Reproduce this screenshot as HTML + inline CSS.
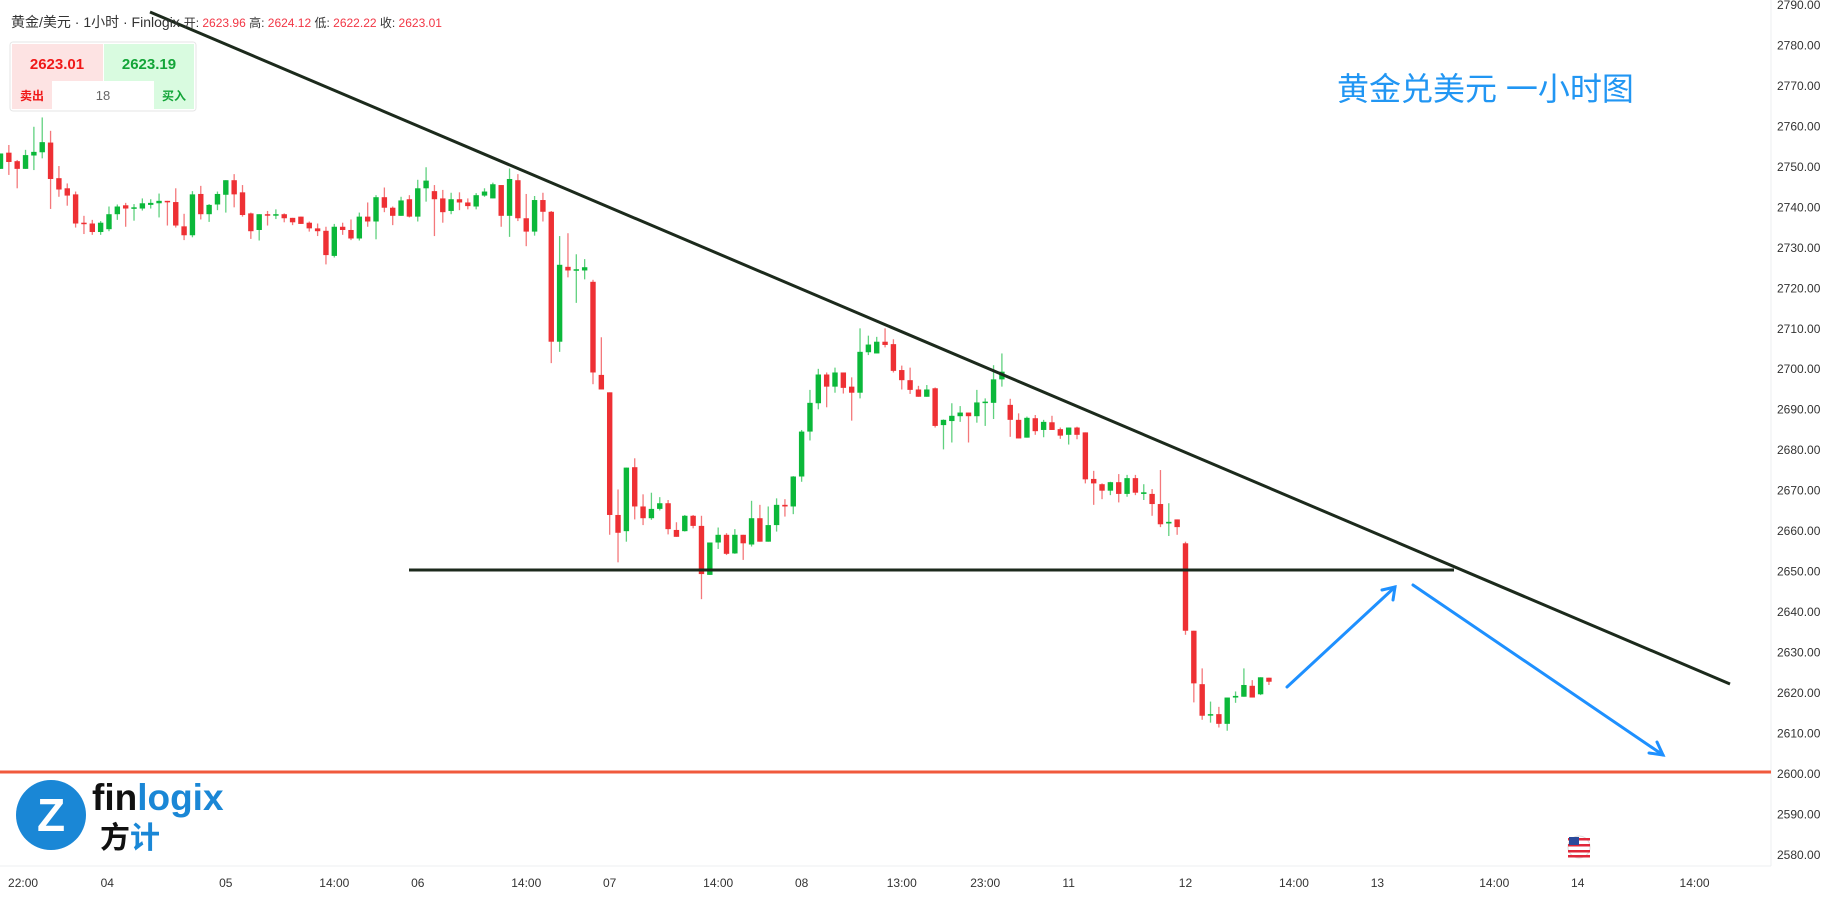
<!DOCTYPE html>
<html><head><meta charset="utf-8">
<style>
html,body{margin:0;padding:0;background:#fff;width:1825px;height:899px;overflow:hidden;font-family:"Liberation Sans","Noto Sans CJK SC",sans-serif;}
#c{position:absolute;left:0;top:0}
</style></head>
<body>
<svg id="c" width="1825" height="899" xmlns="http://www.w3.org/2000/svg">
  <rect x="0" y="0" width="1825" height="899" fill="#fff"/>
  <line x1="1771" y1="0" x2="1771" y2="866" stroke="#eceff2"/>
  <line x1="0" y1="866" x2="1771" y2="866" stroke="#eceff2"/>
  <g id="yaxis"></g>
  <g id="xaxis"></g>
  <g id="candles"></g>
  <line x1="0" y1="772" x2="1771" y2="772" stroke="#f05a3c" stroke-width="3"/>
  <line x1="150" y1="12" x2="1730" y2="684" stroke="#1c2a1c" stroke-width="3"/>
  <line x1="409" y1="570" x2="1454" y2="570" stroke="#1c2a1c" stroke-width="3"/>
  <g stroke="#1e90ff" stroke-width="3" fill="none" stroke-linecap="round">
    <line x1="1287" y1="687" x2="1395" y2="587"/>
    <polyline points="1382,590 1395,587 1393,600"/>
  </g>
  <g stroke="#1e90ff" stroke-width="3" fill="none" stroke-linecap="round">
    <line x1="1413" y1="585" x2="1663" y2="755"/>
    <polyline points="1649,753 1663,755 1657,742"/>
  </g>
  <text x="1337" y="100" font-size="32" fill="#2196f3" font-family="Liberation Sans, Noto Sans CJK SC, sans-serif">黄金兑美元 一小时图</text>

  <text x="11" y="27" font-size="14" fill="#333">黄金/美元 · 1小时 · Finlogix <tspan font-size="12">开:</tspan><tspan fill="#f23645" font-size="12"> 2623.96 </tspan><tspan font-size="12"> 高:</tspan><tspan fill="#f23645" font-size="12"> 2624.12 </tspan><tspan font-size="12"> 低:</tspan><tspan fill="#f23645" font-size="12"> 2622.22 </tspan><tspan font-size="12"> 收:</tspan><tspan fill="#f23645" font-size="12"> 2623.01</tspan></text>

  <g>
    <rect x="10" y="42" width="186" height="69" rx="3" fill="#fff" stroke="#e6e6e6"/>
    <rect x="12" y="44" width="91" height="37" fill="#fde3e3"/>
    <rect x="104" y="44" width="90" height="37" fill="#d9fbe0"/>
    <rect x="12" y="81" width="40" height="28" fill="#fde3e3"/>
    <rect x="154" y="81" width="40" height="28" fill="#d9fbe0"/>
    <text x="57" y="69" font-size="15" font-weight="bold" fill="#f01818" text-anchor="middle">2623.01</text>
    <text x="149" y="69" font-size="15" font-weight="bold" fill="#13a538" text-anchor="middle">2623.19</text>
    <text x="32" y="100" font-size="12" font-weight="bold" fill="#f01818" text-anchor="middle">卖出</text>
    <text x="103" y="100" font-size="13" fill="#666" text-anchor="middle">18</text>
    <text x="174" y="100" font-size="12" font-weight="bold" fill="#13a538" text-anchor="middle">买入</text>
  </g>

  <g>
    <circle cx="51" cy="815" r="35" fill="#1a87d6"/>
    <text x="51" y="831" font-size="46" font-weight="bold" fill="#fff" text-anchor="middle">Z</text>
    <text x="92" y="810" font-size="37" font-weight="bold" fill="#111">fin<tspan fill="#1a87d6">logix</tspan></text>
    <text x="100" y="848" font-size="30" font-weight="bold" fill="#111">方<tspan fill="#1a87d6">计</tspan></text>
  </g>
  <g>
    <circle cx="1579" cy="847" r="11" fill="#fff" stroke="#ddd"/>
    <rect x="1568" y="838" width="22" height="2.5" fill="#e0283a"/>
    <rect x="1568" y="844" width="22" height="2.5" fill="#e0283a"/>
    <rect x="1568" y="850" width="22" height="2.5" fill="#e0283a"/>
    <rect x="1568" y="855" width="22" height="2.5" fill="#e0283a"/>
    <rect x="1569" y="837" width="10" height="8" fill="#2b4a9b"/>
  </g>
</svg>
<script>
const yTicks=[2790,2780,2770,2760,2750,2740,2730,2720,2710,2700,2690,2680,2670,2660,2650,2640,2630,2620,2610,2600,2590,2580];
const xLabels=["22:00","04","05","14:00","06","14:00","07","14:00","08","13:00","23:00","11","12","14:00","13","14:00","14","14:00"];
const xLabelSlot=[2.7,12.8,27,40,50,63,73,86,96,108,118,128,142,155,165,179,189,203];
const opens=[2749.5,2753.5,2751.4,2749.5,2752.8,2753.6,2756,2747.2,2744.7,2743.2,2736.2,2736,2733.9,2734.6,2738.3,2740.5,2739.7,2739.7,2740.6,2741,2741.6,2741.3,2735.3,2733.1,2743.3,2738.3,2740.7,2743.1,2746.7,2743.7,2738.5,2734.4,2738.3,2738,2738.3,2737.4,2737.7,2736.2,2734.8,2734.2,
2728,2735.2,2734.4,2732.3,2737.7,2736.5,2742.5,2739.9,2737.9,2742,2737.7,2744.7,2744,2742.2,2739.1,2742,2741.2,2740.2,2742.9,2742.2,2745.5,2737.9,2746.7,2737.3,2734,2741.8,2738.9,2706.8,2725.3,2724.5,2724.4,2721.6,2698.6,
2694.3,2664,2660,2675.8,2666.1,2663.2,2665.5,2666.9,2660.3,2660,2663.8,2661.3,2649.2,2657.2,2659.1,2654.5,2659.1,2656.7,2663.2,2657.4,2661.5,2666.5,2666.1,2673.5,2684.6,2691.6,2698.7,2695.7,
2699.2,2695.7,2694.2,2704.2,2703.9,2706.8,2706.2,2699.8,2697.3,2695,2693.2,2695.3,2686.2,2687.2,2688.4,2689.3,2688.4,2691.7,2691.7,2697.5,2691.2,2687.5,2683.1,2687.9,2685,2686.9,2685.2,2683.8,2685.6,2684.4,2672.9,
2671.6,2670,2672.1,2669.2,2673.1,2669.2,2669.2,2666.7,2661.9,2662.9,2657,2635.4,2622.2,2614.6,2614.8,2612.4,2618.9,2619.1,2621.8,2619.7,2623.8];
const closes=[2753.3,2751.2,2749.5,2752.9,2753.7,2756.1,2747,2744.4,2742.9,2736,2736,2733.9,2736.2,2738.3,2740.2,2739.7,2740,2741,2741.1,2741.6,2741.3,2735.5,2733.1,2743.2,2738.3,2740.6,2743.3,2746.7,2743.2,2738.1,2734.1,2738.3,2738,2738.3,2737.3,2736.3,2735.9,2734.8,2734.1,2728.2,
2735.2,2734.4,2732.3,2737.7,2736.5,2742.5,2739.9,2737.9,2741.7,2737.7,2744.7,2746.6,2742,2738.8,2742,2741.2,2740.3,2743,2743.9,2745.7,2737.9,2747,2737.3,2734,2741.8,2738.9,2706.8,2725.8,2724.4,2724.7,2725.2,2699.2,2695,
2664,2659.6,2675.7,2666.1,2663.2,2665.5,2666.9,2660.5,2658.6,2663.8,2661.3,2649.4,2657.2,2659.1,2654.4,2659.1,2657,2663.2,2657.4,2661.5,2666.5,2666.1,2673.5,2684.6,2691.7,2698.7,2695.7,2699.2,
2695.4,2694.2,2704.3,2706.1,2706.8,2706,2699.6,2697.3,2694.9,2693.2,2695,2686,2687.5,2688.5,2689.3,2688.4,2691.8,2692,2697.5,2699.4,2687.5,2682.9,2688,2684.7,2687,2685,2683.6,2685.6,2683.8,2672.8,2671.8,
2670,2672.1,2669.2,2673.1,2669.5,2669.6,2666.7,2661.7,2662.3,2661,2635.4,2622.4,2614.4,2614.8,2612.4,2618.9,2619.3,2622,2618.9,2623.9,2622.8];
const highs=[2753.3,2755.4,2751.7,2754.2,2759.9,2762.2,2758.9,2750.2,2745.9,2743.9,2737.9,2736.9,2736.6,2740.2,2740.7,2741.1,2740.8,2742.2,2742,2743.4,2741.6,2744.7,2738.4,2744,2745.3,2740.8,2743.9,2746.7,2748.2,2745.5,2738.7,2738.3,2739.1,2739.5,2738.5,2737.4,2737.7,2736.5,2736,2735.2,
2735.9,2736.2,2737,2738.7,2741.2,2743,2744.9,2740.2,2742.6,2743,2746.8,2749.9,2745.5,2744.3,2743.6,2743.7,2742.2,2743.5,2744.7,2746.1,2745.5,2749.6,2748.2,2743.3,2742.8,2743.6,2739.1,2732.9,2733.6,2728.4,2727.2,2722.1,2707.9,
2694.3,2670.3,2675.7,2678,2669.1,2669.5,2668.4,2667.7,2662.2,2664,2664,2663.8,2657.2,2660.9,2659.5,2660.5,2659.1,2667.5,2666.5,2666.1,2668.1,2667.9,2673.6,2685,2694.9,2700.1,2699.2,2700.4,
2699.2,2698,2710.1,2708.3,2708,2710.1,2707.4,2700.9,2700.4,2695.9,2696.1,2695.5,2687.6,2691.6,2690.9,2689.3,2694.9,2692.8,2701,2703.9,2692.7,2689.1,2688.3,2688.7,2687.5,2688.5,2685.6,2685.6,2685.8,2684.4,2674.9,
2671.8,2672.2,2674.1,2673.9,2673.9,2671.6,2670.4,2675.1,2666.9,2662.9,2657.4,2635.4,2626.1,2617.9,2616.6,2618.9,2620.4,2626.1,2623.2,2623.9,2623.8];
const lows=[2749.5,2748,2744.7,2749.5,2749.2,2752.1,2739.6,2742.6,2740.4,2735,2733.4,2733.2,2733.2,2734.1,2736.9,2735.2,2736.7,2739.2,2739.7,2737.5,2735.5,2735,2731.9,2732.6,2737,2736.4,2739.3,2738.7,2740,2737.7,2732.2,2731.8,2735.5,2737.1,2736.3,2735.6,2735.9,2734,2732.9,2725.9,
2727.6,2733.2,2731.9,2731.8,2735.2,2732.1,2738.8,2735.6,2737.9,2737.5,2736.5,2741.4,2732.9,2736.2,2738.3,2739.3,2739.5,2739.5,2742.6,2742.2,2735.2,2732.7,2736.6,2730.4,2733,2736.5,2701.5,2704.3,2722.7,2716.4,2722.2,2696.3,2695,
2659.1,2652.3,2657.4,2662.9,2661.5,2662.8,2665.1,2659.2,2658.6,2659.9,2660.7,2643.2,2649.2,2655.6,2654.1,2654.4,2652.9,2656.2,2657.4,2657.4,2659.9,2663.6,2664.2,2672.2,2682.4,2690.1,2690.6,2694.2,
2694,2687.3,2692.8,2703.5,2703.9,2705.4,2699.2,2695,2693.9,2693.2,2693.2,2685.6,2680.2,2681.9,2687,2681.9,2686.8,2686,2687.7,2695.7,2683.3,2682.9,2683.1,2683.8,2683.2,2685,2682.8,2681.4,2682.7,2671.8,2666.5,
2667.9,2668.9,2667.1,2668.5,2668.9,2667.7,2663.8,2661,2658.8,2659.1,2634.4,2617.7,2613.4,2612.7,2611.5,2610.7,2617.6,2619.1,2618.9,2619.5,2622];

const NS="http://www.w3.org/2000/svg";
const X0=0.5, STEP=8.345;
function xScale(i){return X0+i*STEP;}
function yScale(p){return 45.4+(2780-p)*4.048;}

const ya=document.getElementById('yaxis');
yTicks.forEach(v=>{
  const t=document.createElementNS(NS,'text');
  
  
  t.setAttribute('x',1777);t.setAttribute('y',yScale(v)+4);
  t.setAttribute('font-size','12');t.setAttribute('fill','#333');
  t.textContent=v.toFixed(2);ya.appendChild(t);
});
const xa=document.getElementById('xaxis');
xLabels.forEach((s,k)=>{
  const t=document.createElementNS(NS,'text');
  
  
  t.setAttribute('x',xScale(xLabelSlot[k]));t.setAttribute('y',887);
  t.setAttribute('font-size','12');t.setAttribute('fill','#333');t.setAttribute('text-anchor','middle');
  t.textContent=s;xa.appendChild(t);
});
const cg=document.getElementById('candles');
opens.forEach((o,i)=>{
  const c=closes[i],h=highs[i],l=lows[i];
  const col=c>=o?'#0bb83a':'#ee3034';
  const x=xScale(i);
  const w=document.createElementNS(NS,'line');
  
  
  w.setAttribute('x1',x);w.setAttribute('x2',x);
  w.setAttribute('y1',yScale(h));w.setAttribute('y2',yScale(l));
  w.setAttribute('stroke',col);w.setAttribute('stroke-opacity','0.65');w.setAttribute('stroke-width','1.3');
  cg.appendChild(w);
  const r=document.createElementNS(NS,'rect');
  
  
  const top=yScale(Math.max(o,c)),bot=yScale(Math.min(o,c));
  r.setAttribute('x',x-2.7);r.setAttribute('width',5.4);
  r.setAttribute('y',top);r.setAttribute('height',Math.max(1.5,bot-top));
  r.setAttribute('fill',col);
  cg.appendChild(r);
});
</script>
</body></html>
